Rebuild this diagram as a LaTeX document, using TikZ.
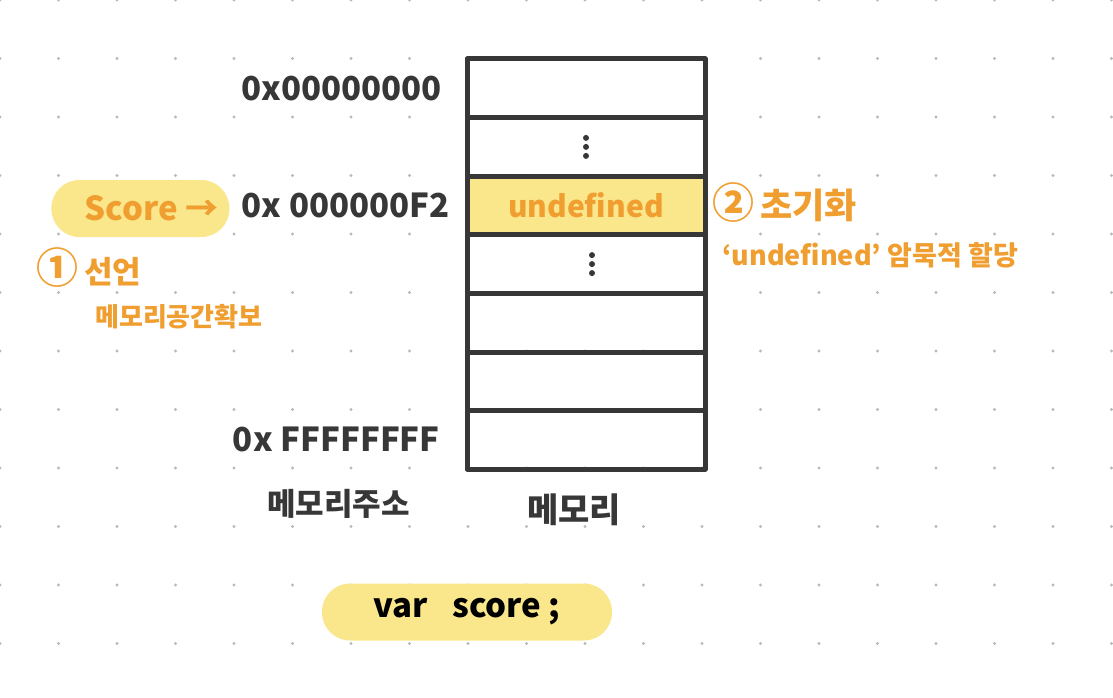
\documentclass[tikz,border=0pt]{standalone}
\usepackage{fontspec}
\setmainfont{Noto Sans CJK KR}
\usetikzlibrary{positioning}
\definecolor{ink}{RGB}{55,55,55}
\definecolor{marker}{RGB}{250,231,140}
\definecolor{accent}{RGB}{240,158,48}
\definecolor{griddot}{RGB}{185,185,185}
\newcommand{\fsz}[1]{\fontsize{#1}{#1}\selectfont}

\begin{document}
\begin{tikzpicture}[x=1pt, y=-1pt,
  cell/.style={rectangle, draw=ink, line width=5pt, line join=round,
               minimum width=238pt, minimum height=58.6pt, inner sep=0pt, outer sep=0pt},
  addr/.style={font=\fsz{33}\bfseries, text=ink, inner sep=0pt},
  pill/.style={rectangle, rounded corners=28pt, fill=marker, minimum height=57pt, inner sep=0pt},
  note/.style={font=\fsz{27}\bfseries, text=accent, inner sep=0pt, anchor=west},
  caption/.style={font=\fsz{31}\bfseries, text=ink, inner sep=0pt},
  vdot/.style={fill=ink, circle, inner sep=0pt, minimum size=6pt}
]
\useasboundingbox[fill=white] (0,0) rectangle (1113,698);

% dot grid
\foreach \i in {0,...,19}
  \foreach \j in {0,...,11}
    \fill[griddot] (58.5*\i, 58.5*\j) circle (1.6pt);

% memory cells
\foreach \i in {1,...,7}
  \node[cell] (c\i) at (586, 59+58.6*\i-29.3) {};
\node[cell, fill=marker, font=\fsz{30}\bfseries, text=accent] (c3) at (c3) {undefined};
\node[cell] at (c4) {};
\foreach \d in {-9,0,9}
  \node[vdot] at ([yshift=-\d pt]c2.center) {};
\foreach \d in {-9,0,9}
  \node[vdot] at ([xshift=6pt, yshift=-\d pt]c4.center) {};

% addresses
\node[addr, left=25pt of c1.west] (a0) {0x00000000};
\node[addr, left=17pt of c3.west] (af2) {0x 000000F2};
\node[addr, left=27pt of c7.west] (aff) {0x FFFFFFFF};
\node[pill, minimum width=178pt, left=12pt of af2.west, yshift=-3pt,
      font=\fsz{33}\bfseries, text=accent] (score) {\hspace*{22pt}Score →};

% notes
\node[note] (decl) at (36, 268) {\fsz{42}①\hspace{6pt}\fsz{31}선언};
\node[note, font=\fsz{26}\bfseries] (declsub) at (95, 317) {메모리공간확보};
\node[note] (init) at (712, 203) {\fsz{42}②\hspace{6pt}\fsz{35}초기화};
\node[note] (initsub) at (722, 255) {`undefined' 암묵적 할당};

% captions
\node[caption, below=36pt of aff.south, xshift=2pt] (addrcap) {메모리주소};
\node[caption, font=\fsz{34}\bfseries] (memcap) at (574, 510) {메모리};
\node[pill, minimum width=290pt, font=\fsz{33}\bfseries, text=black] (code) at (467, 612)
  {var\hspace{24pt}score ;};
\end{tikzpicture}
\end{document}
